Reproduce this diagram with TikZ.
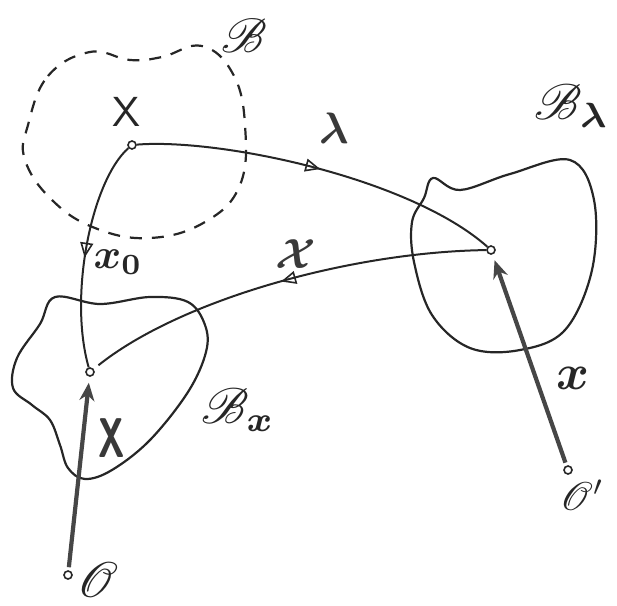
\documentclass[tikz,border=0pt]{standalone}
\usepackage{graphicx}
\usepackage{mathrsfs}
\usepackage{amsmath}
\usepackage{bm}
\usetikzlibrary{arrows.meta,decorations.markings}
\tikzset{
  pen/.style={line width=2pt, black!85},
  dashblob/.style={line width=2.2pt, black!85, dash pattern=on 12pt off 10pt},
  blob/.style={line width=2.2pt, black!85},
  pt/.style={circle, draw=black!85, fill=white, line width=1.6pt, inner sep=0pt, minimum size=8pt},
  vec/.style={line width=4.2pt, draw=gray!55!black, -{Stealth[length=18pt,width=15pt]}, shorten >=6pt, shorten <=3pt},
  midarrow/.style={postaction={decorate, decoration={markings,
      mark=at position #1 with {\arrow{Triangle[open,length=15pt,width=13pt,line width=1.6pt]}}}}},
  lab/.style={inner sep=0pt, text=black!85},
  graylab/.style={inner sep=0pt, text=gray!45!black}
}
\begin{document}
\begin{tikzpicture}[x=1pt, y=-1pt]
\useasboundingbox (0,0) rectangle (617,605);
% dashed neighbourhood
\draw[dashblob] plot[smooth cycle, tension=0.7] coordinates {
 (28,125) (48,76) (90,52) (130,60) (162,57) (202,46) (233,74) (245,125)
 (240,185) (205,222) (150,238) (95,228) (52,200) (25,160)};
% right blob
\draw[blob] plot[smooth cycle, tension=0.6] coordinates {
 (433,178) (460,190) (510,174) (570,160) (594,200) (592,270) (565,330)
 (520,350) (470,348) (432,315) (414,262) (412,222) (424,198)};
% left blob
\draw[blob] plot[smooth cycle, tension=0.6] coordinates {
 (55,297) (100,304) (150,297) (188,302) (205,325) (206,352) (188,392)
 (150,440) (112,470) (85,479) (68,468) (60,445) (50,420) (32,405)
 (13,388) (17,358) (40,324)};
% points
\node[pt] (x0) at (132,145) {};
\node[pt] (pR) at (491,250) {};
\node[pt] (pL) at (90,372) {};
\node[pt] (O) at (68,575) {};
\node[pt] (Op) at (568,470) {};
% connectors
\draw[pen, midarrow=0.5] (x0) .. controls (220,138) and (410,178) .. (pR);
\draw[pen, midarrow=0.52] (x0) .. controls (92,180) and (68,295) .. (pL);
\draw[pen, midarrow=0.5, shorten >=6pt] (pR) .. controls (350,252) and (180,300) .. (pL);
\draw[vec] (O) -- (pL);
\draw[vec] (Op) -- (pR);
% labels
\node[lab] (lX) at (127,112) {\scalebox{4.2}{\sffamily X}};
\node[lab] (lB) at (244,36) {\scalebox{4.8}{$\mathscr{B}$}};
\node[lab] (lBl) at (572,106) {\scalebox{5}{$\mathscr{B}_{\boldsymbol{\lambda}}$}};
\node[graylab] (llam) at (334,128) {\scalebox{4.4}{$\boldsymbol{\lambda}$}};
\node[lab] (lx0) at (118,262) {\scalebox{4.2}{$\boldsymbol{x}_{\boldsymbol{0}}$}};
\node[graylab] (lXc) at (296,254) {\scalebox{4.2}{$\bm{\mathcal{X}}$}};
\node[lab] (lBx) at (238,410) {\scalebox{5}{$\mathscr{B}_{\boldsymbol{x}}$}};
\node[graylab] (lXb) at (112,438) {\scalebox{3.6}[5.6]{\sffamily\bfseries X}};
\node[lab] (lx) at (573,378) {\scalebox{5}{$\boldsymbol{x}$}};
\node[lab] (lO) at (98,580) {\scalebox{5}{$\mathscr{O}$}};
\node[lab] (lOp) at (582,495) {\scalebox{4}{$\mathscr{O}'$}};
\end{tikzpicture}
\end{document}
